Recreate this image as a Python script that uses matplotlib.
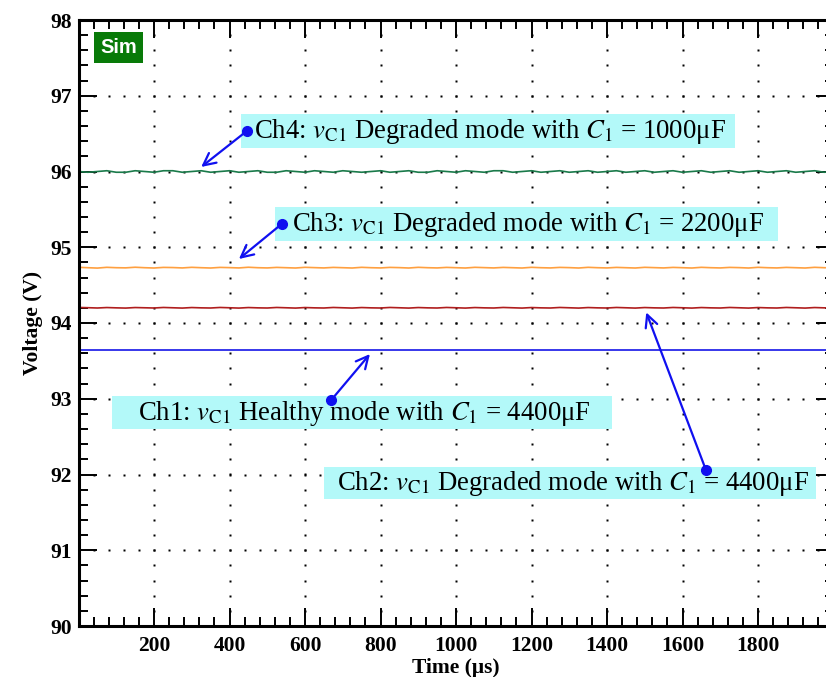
import numpy as np
import matplotlib
matplotlib.use("Agg")
import matplotlib.pyplot as plt
from matplotlib.patches import Rectangle

plt.rcParams['font.family'] = ['Liberation Serif', 'DejaVu Serif']
plt.rcParams['mathtext.fontset'] = 'stix'

# ---- data ----
time_us = np.linspace(0, 2000, 81)

ch4_v = [96.00, 95.99, 96.00, 96.01, 95.99, 95.99, 96.01, 96.00, 95.99, 96.01,
         96.01, 95.99, 96.00, 96.01, 95.99, 96.00, 96.01, 95.99, 96.00, 96.01,
         95.99, 95.99, 96.01, 96.00, 95.99, 96.01, 96.00, 95.99, 96.01, 96.00,
         95.99, 96.00, 96.01, 95.99, 96.00, 96.01, 95.99, 95.99, 96.01, 96.00,
         95.99, 96.01, 96.00, 95.99, 96.01, 96.01, 95.99, 96.00, 96.01, 95.99,
         96.00, 96.01, 95.99, 96.00, 96.01, 95.99, 96.00, 96.01, 95.99, 96.00,
         96.01, 95.99, 96.00, 96.01, 95.99, 96.00, 96.01, 95.99, 96.00, 96.01,
         95.99, 96.00, 96.01, 95.99, 96.00, 96.01, 95.99, 96.00, 96.01, 95.99,
         96.00]

ch3_v = [94.735, 94.730, 94.725, 94.735, 94.730, 94.728, 94.736, 94.730, 94.726, 94.734,
         94.732, 94.727, 94.735, 94.730, 94.726, 94.734, 94.731, 94.727, 94.736, 94.730,
         94.727, 94.734, 94.730, 94.726, 94.735, 94.731, 94.727, 94.734, 94.730, 94.726,
         94.735, 94.730, 94.727, 94.734, 94.731, 94.726, 94.735, 94.730, 94.727, 94.734,
         94.730, 94.726, 94.735, 94.731, 94.727, 94.734, 94.730, 94.726, 94.735, 94.730,
         94.727, 94.734, 94.731, 94.726, 94.735, 94.730, 94.727, 94.734, 94.730, 94.726,
         94.735, 94.731, 94.727, 94.734, 94.730, 94.726, 94.735, 94.730, 94.727, 94.734,
         94.731, 94.726, 94.735, 94.730, 94.727, 94.734, 94.730, 94.726, 94.735, 94.730,
         94.728]

ch2_v = [94.205, 94.202, 94.198, 94.204, 94.200, 94.197, 94.204, 94.201, 94.198, 94.205,
         94.201, 94.197, 94.204, 94.200, 94.198, 94.205, 94.201, 94.197, 94.204, 94.200,
         94.198, 94.205, 94.201, 94.197, 94.204, 94.200, 94.198, 94.205, 94.201, 94.197,
         94.204, 94.200, 94.198, 94.205, 94.201, 94.197, 94.204, 94.200, 94.198, 94.205,
         94.201, 94.197, 94.204, 94.200, 94.198, 94.205, 94.201, 94.197, 94.204, 94.200,
         94.198, 94.205, 94.201, 94.197, 94.204, 94.200, 94.198, 94.205, 94.201, 94.197,
         94.204, 94.200, 94.198, 94.205, 94.201, 94.197, 94.204, 94.200, 94.198, 94.205,
         94.201, 94.197, 94.204, 94.200, 94.198, 94.205, 94.201, 94.197, 94.204, 94.200,
         94.201]

ch1_v = [93.65] * 81

x_major = [200, 400, 600, 800, 1000, 1200, 1400, 1600, 1800]
y_major = [90, 91, 92, 93, 94, 95, 96, 97, 98]

# ---- figure ----
W, H = 826, 677
fig = plt.figure(figsize=(W / 100, H / 100), dpi=100)
ax_left, ax_right, ax_top, ax_bot = 78.5, 833.5, 20, 626
ax = fig.add_axes([ax_left / W, (H - ax_bot) / H,
                   (ax_right - ax_left) / W, (ax_bot - ax_top) / H])
ax.set_xlim(0, 2000)
ax.set_ylim(90, 98)

# dotted grid: one dot per minor step along each major line
x_minor = np.arange(40, 2000, 40)
y_minor = np.arange(90.2, 98.0, 0.2)
for xm in x_major:
    ax.plot(np.full_like(y_minor, xm), y_minor, ls='none', marker='s',
            ms=1.7, mec='none', mfc='black', zorder=1)
for ym in y_major[1:-1]:
    ax.plot(x_minor, np.full_like(x_minor, ym, dtype=float), ls='none',
            marker='s', ms=1.7, mec='none', mfc='black', zorder=1)

# traces
ax.plot(time_us, ch4_v, color='#1a7a4a', lw=1.2, zorder=2)
ax.plot(time_us, ch3_v, color='#ffa040', lw=1.2, zorder=2)
ax.plot(time_us, ch2_v, color='#b01e1e', lw=1.2, zorder=2)
ax.plot(time_us, ch1_v, color='#1515e8', lw=1.2, zorder=2)

# ticks and spines
ax.set_xticks(x_major)
ax.set_yticks(y_major)
ax.set_xticks(x_minor, minor=True)
ax.set_yticks(y_minor, minor=True)
ax.tick_params(which='both', direction='in', top=True, right=True, width=1.4,
               color='black')
ax.tick_params(which='major', length=13, labelsize=15.5)
ax.tick_params(axis='x', which='major', pad=7)
ax.tick_params(axis='y', which='major', pad=5)
ax.tick_params(which='minor', length=6.5)
for lab in ax.get_xticklabels() + ax.get_yticklabels():
    lab.set_fontweight('bold')
for sp in ax.spines.values():
    sp.set_linewidth(2.2)

ax.set_xlabel('Time (μs)', fontsize=15.5, fontweight='bold', labelpad=2)
ax.set_ylabel('Voltage (V)', fontsize=15.5, fontweight='bold', labelpad=5)

# "Sim" badge
ax.text(0.0285, 0.9705, 'Sim', transform=ax.transAxes, ha='left', va='top',
        fontsize=14.5, fontweight='bold', color='white',
        family=['Liberation Sans', 'DejaVu Sans'], zorder=6,
        bbox=dict(boxstyle='square,pad=0.3', fc='#087a08', ec='none'))

# annotation boxes
box_color = '#b3f9f9'
arrow_color = '#1010f0'
labels = [
    ('Ch4: $v_{\\mathrm{C1}}$ Degraded mode with $C_1$ = 1000μF',
     (430, 96.31, 1309, 0.45), (465, 96.53), (446, 96.535), (325, 96.06)),
    ('Ch3: $v_{\\mathrm{C1}}$ Degraded mode with $C_1$ = 2200μF',
     (520, 95.08, 1333, 0.45), (566, 95.30), (539, 95.31), (425, 94.845)),
    ('Ch1: $v_{\\mathrm{C1}}$ Healthy mode with $C_1$ = 4400μF',
     (89, 92.60, 1324, 0.44), (158, 92.80), (669, 92.98), (772, 93.59)),
    ('Ch2: $v_{\\mathrm{C1}}$ Degraded mode with $C_1$ = 4400μF',
     (650, 91.68, 1304, 0.42), (685, 91.88), (1662, 92.06), (1504, 94.14)),
]
for text, (bx, by, bw, bh), (tx, ty), tail, head in labels:
    ax.add_patch(Rectangle((bx, by), bw, bh, fc=box_color, ec='none', zorder=3))
    ax.text(tx, ty, text, fontsize=19.3, ha='left', va='center', zorder=4)
    ax.annotate('', xy=head, xytext=tail, zorder=5,
                arrowprops=dict(arrowstyle='->', color=arrow_color, lw=1.6,
                                mutation_scale=22, shrinkA=0, shrinkB=0))
    ax.plot(*tail, marker='o', ms=7, color=arrow_color, zorder=5)

fig.savefig('out.png', dpi=100)
